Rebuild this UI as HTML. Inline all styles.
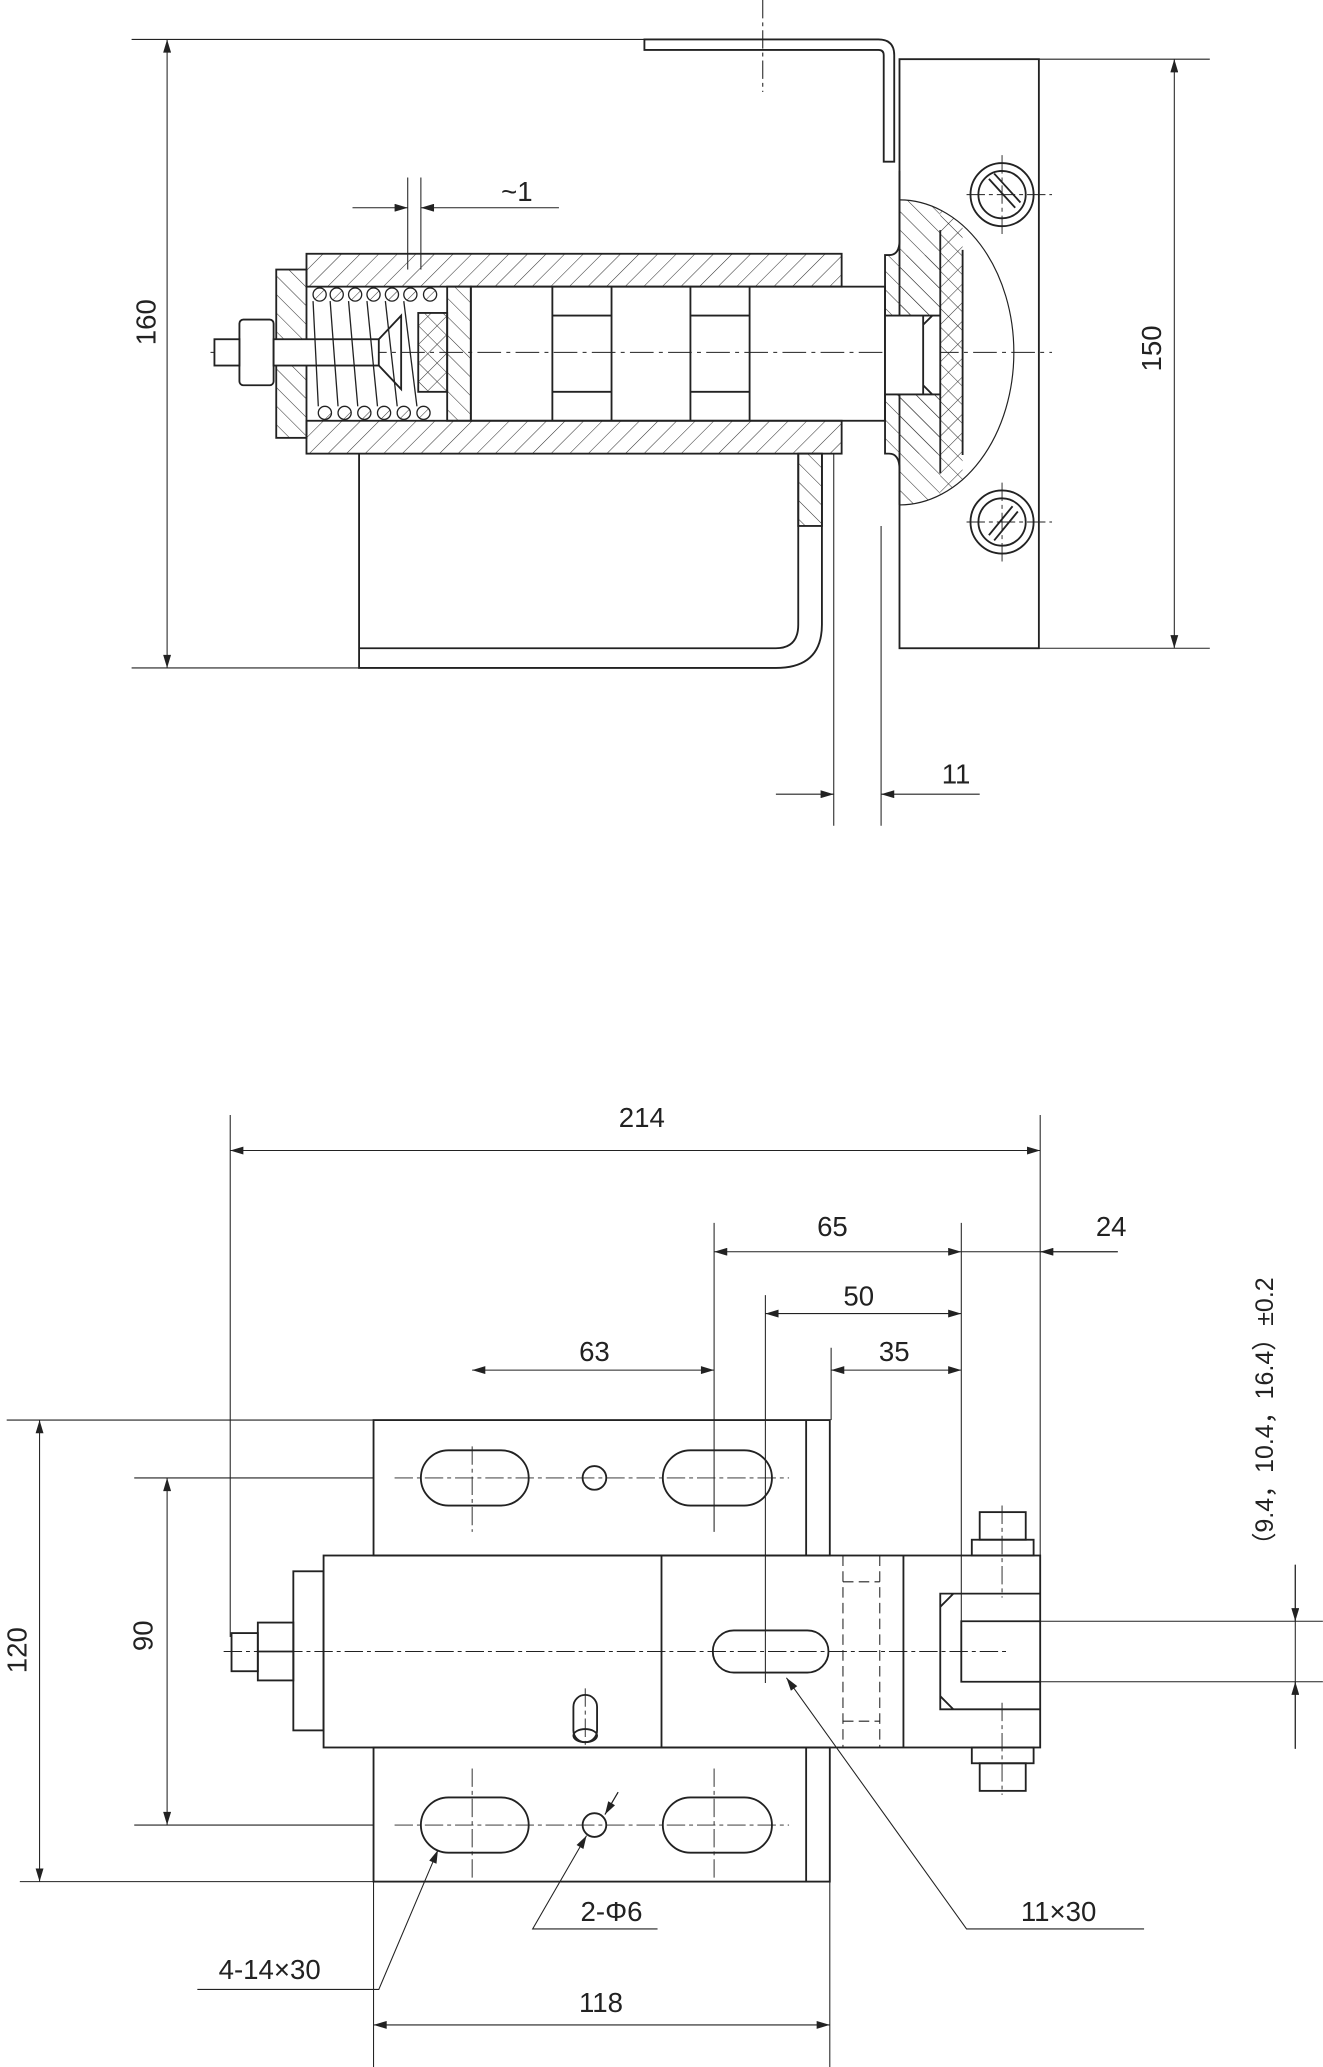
<!DOCTYPE html>
<html><head><meta charset="utf-8"><style>html,body{margin:0;padding:0;background:#fff}svg{display:block}</style></head>
<body>
<svg width="1323" height="2067" viewBox="0 0 1006 1572" xmlns="http://www.w3.org/2000/svg" font-family="Liberation Sans, sans-serif" font-size="21" fill="none" stroke="#222" stroke-width="1">
<defs>
<pattern id="h1" width="10" height="10" patternUnits="userSpaceOnUse" patternTransform="rotate(45)"><line x1="0" y1="0" x2="0" y2="10" stroke="#333" stroke-width="0.8"/></pattern>
<pattern id="h2" width="10" height="10" patternUnits="userSpaceOnUse" patternTransform="rotate(-45)"><line x1="0" y1="0" x2="0" y2="10" stroke="#333" stroke-width="0.8"/></pattern>
<pattern id="hx" width="10" height="10" patternUnits="userSpaceOnUse" patternTransform="rotate(45)"><line x1="0" y1="0" x2="0" y2="10" stroke="#333" stroke-width="0.8"/><line x1="0" y1="0" x2="10" y2="0" stroke="#333" stroke-width="0.8"/></pattern>
<clipPath id="dome"><ellipse cx="684" cy="268" rx="87" ry="116"/></clipPath>
<marker id="a" viewBox="0 0 10 6" refX="10" refY="3" markerWidth="14" markerHeight="6" markerUnits="userSpaceOnUse" orient="auto-start-reverse"><path d="M0,0L10,3L0,6z" fill="#222" stroke="none"/></marker>
</defs>
<g stroke-width="0.8">
<!-- TOP VIEW dims -->
<line x1="100" y1="30" x2="490" y2="30"/>
<line x1="127" y1="30" x2="127" y2="508" marker-start="url(#a)" marker-end="url(#a)"/>
<line x1="100" y1="508" x2="275" y2="508"/>
<line x1="580" y1="0" x2="580" y2="70" stroke-dasharray="14,3,3,3"/>
<line x1="684" y1="45" x2="920" y2="45"/>
<line x1="790" y1="493" x2="920" y2="493"/>
<line x1="893" y1="45" x2="893" y2="493" marker-start="url(#a)" marker-end="url(#a)"/>
<line x1="160" y1="268" x2="800" y2="268" stroke-dasharray="18,4,3,4"/>
<line x1="310" y1="135" x2="310" y2="205"/><line x1="320" y1="135" x2="320" y2="205"/>
<line x1="268" y1="158" x2="310" y2="158" marker-end="url(#a)"/>
<line x1="425" y1="158" x2="320" y2="158" marker-end="url(#a)"/>
<line x1="634" y1="345" x2="634" y2="628"/><line x1="670" y1="400" x2="670" y2="628"/>
<line x1="590" y1="604" x2="634" y2="604" marker-end="url(#a)"/>
<line x1="745" y1="604" x2="670" y2="604" marker-end="url(#a)"/>
</g>
<g stroke-width="1.4">
<path d="M490,30 L668,30 Q680,30 680,42 L680,123 L672,123 L672,42 Q672,38 668,38 L490,38 Z"/>
<rect x="684" y="45" width="106" height="448"/>
<!-- tube -->
<rect x="233" y="193" width="407" height="25" fill="url(#h1)"/>
<rect x="233" y="320" width="407" height="25" fill="url(#h1)"/>
<rect x="210" y="205" width="23" height="128" fill="url(#h2)"/>
<rect x="340" y="218" width="18" height="102" fill="url(#h2)"/>
<rect x="318" y="238" width="22" height="60" fill="url(#hx)"/>
<rect x="182" y="243" width="26" height="50" rx="3" fill="#fff"/>
<rect x="163" y="258" width="19" height="20" fill="#fff"/>
<rect x="208" y="258" width="80" height="20" fill="#fff"/>
<path d="M288,258 L305,240 L305,296 L288,278"/>
<rect x="358" y="218" width="315" height="102"/>
<line x1="420" y1="218" x2="420" y2="320"/><line x1="465" y1="218" x2="465" y2="320"/>
<line x1="525" y1="218" x2="525" y2="320"/><line x1="570" y1="218" x2="570" y2="320"/>
<line x1="420" y1="240" x2="465" y2="240"/><line x1="420" y1="298" x2="465" y2="298"/>
<line x1="525" y1="240" x2="570" y2="240"/><line x1="525" y1="298" x2="570" y2="298"/>
<g stroke-width="1">
<circle cx="243" cy="224" r="5" fill="url(#h1)"/><circle cx="256" cy="224" r="5" fill="url(#h1)"/><circle cx="270" cy="224" r="5" fill="url(#h1)"/><circle cx="284" cy="224" r="5" fill="url(#h1)"/><circle cx="298" cy="224" r="5" fill="url(#h1)"/><circle cx="312" cy="224" r="5" fill="url(#h1)"/><circle cx="327" cy="224" r="5" fill="url(#h1)"/>
<circle cx="247" cy="314" r="5" fill="url(#h1)"/><circle cx="262" cy="314" r="5" fill="url(#h1)"/><circle cx="277" cy="314" r="5" fill="url(#h1)"/><circle cx="292" cy="314" r="5" fill="url(#h1)"/><circle cx="307" cy="314" r="5" fill="url(#h1)"/><circle cx="322" cy="314" r="5" fill="url(#h1)"/>
<path d="M238,229L242,309M251,229L257,309M265,229L272,309M279,229L287,309M293,229L302,309M307,229L317,309"/>
</g>
<!-- flange -->
<g stroke="none">
<rect x="684" y="140" width="31" height="260" fill="url(#h2)" clip-path="url(#dome)"/>
<rect x="715" y="140" width="17" height="260" fill="url(#hx)" clip-path="url(#dome)"/>
<rect x="673" y="194" width="42" height="151" fill="url(#h2)"/>
<path d="M673,240 L702,240 L702,300 L673,300 Z M702,240 L715,240 L715,300 L702,300 Z" fill="#fff"/>
</g>
<path d="M684,152 A87,116 0 0 1 684,384" stroke-width="0.9"/>
<path d="M684,130 L684,183 Q684,194 676,194 L673,194 L673,345 L676,345 Q684,345 684,357 L684,384"/>
<path d="M673,240 L715,240 M673,300 L715,300 M702,240 L702,300 M702,247 L709,240 M702,293 L709,300"/>
<line x1="715" y1="175" x2="715" y2="360"/><line x1="732" y1="190" x2="732" y2="346"/>
<!-- screws -->
<circle cx="762" cy="148" r="24"/><circle cx="762" cy="148" r="18"/>
<path d="M752,136 L772,158 M756,132 L776,154"/>
<circle cx="762" cy="397" r="24"/><circle cx="762" cy="397" r="18"/>
<path d="M752,407 L770,385 M756,411 L774,389"/>
<!-- coil bracket -->
<path d="M273,345 L273,508 L590,508 Q625,508 625,475 L625,345"/>
<path d="M273,493 L590,493 Q607,493 607,475 L607,345"/>
<rect x="607" y="345" width="18" height="55" fill="url(#h2)"/>
</g>
<g stroke-width="0.7" stroke-dasharray="14,3,3,3">
<line x1="735" y1="148" x2="800" y2="148"/><line x1="762" y1="118" x2="762" y2="178"/>
<line x1="735" y1="397" x2="800" y2="397"/><line x1="762" y1="367" x2="762" y2="427"/>
</g>
<g fill="#222" stroke="none">
<text x="118" y="245" text-anchor="middle" transform="rotate(-90 118 245)">160</text>
<text x="883" y="265" text-anchor="middle" transform="rotate(-90 883 265)">150</text>
<text x="393" y="153" text-anchor="middle">~1</text>
<text x="727" y="596" text-anchor="middle">11</text>
</g>

<!-- BOTTOM VIEW -->
<g stroke-width="0.8">
<line x1="175" y1="848" x2="175" y2="1245"/><line x1="791" y1="848" x2="791" y2="1183"/>
<line x1="175" y1="875" x2="791" y2="875" marker-start="url(#a)" marker-end="url(#a)"/>
<line x1="543" y1="930" x2="543" y2="1165"/><line x1="731" y1="930" x2="731" y2="1233"/>
<line x1="543" y1="952" x2="731" y2="952" marker-start="url(#a)" marker-end="url(#a)"/>
<line x1="731" y1="952" x2="850" y2="952"/><line x1="850" y1="952" x2="791" y2="952" marker-end="url(#a)"/>
<line x1="582" y1="985" x2="582" y2="1280"/>
<line x1="582" y1="999" x2="731" y2="999" marker-start="url(#a)" marker-end="url(#a)"/>
<line x1="632" y1="1025" x2="632" y2="1080"/>
<line x1="632" y1="1042" x2="731" y2="1042" marker-start="url(#a)" marker-end="url(#a)"/>
<line x1="359" y1="1042" x2="543" y2="1042" marker-start="url(#a)" marker-end="url(#a)"/>
<line x1="5" y1="1080" x2="284" y2="1080"/><line x1="15" y1="1431" x2="284" y2="1431"/>
<line x1="30" y1="1080" x2="30" y2="1431" marker-start="url(#a)" marker-end="url(#a)"/>
<line x1="102" y1="1124" x2="284" y2="1124"/><line x1="102" y1="1388" x2="284" y2="1388"/>
<line x1="127" y1="1124" x2="127" y2="1388" marker-start="url(#a)" marker-end="url(#a)"/>
<line x1="284" y1="1431" x2="284" y2="1572"/><line x1="631" y1="1431" x2="631" y2="1572"/>
<line x1="284" y1="1540" x2="631" y2="1540" marker-start="url(#a)" marker-end="url(#a)"/>
<line x1="985" y1="1190" x2="985" y2="1330"/>
<line x1="731" y1="1233" x2="1006" y2="1233"/><line x1="731" y1="1279" x2="1006" y2="1279"/>
<line x1="985" y1="1190" x2="985" y2="1233" marker-end="url(#a)"/>
<line x1="985" y1="1330" x2="985" y2="1279" marker-end="url(#a)"/>
<path d="M150,1513 L288,1513 L333,1407" marker-end="url(#a)"/>
<path d="M500,1467 L405,1467 L446,1396" marker-end="url(#a)"/>
<line x1="460" y1="1380" x2="470" y2="1363"/>
<line x1="470" y1="1363" x2="460" y2="1380" marker-end="url(#a)"/>
<path d="M870,1467 L735,1467 L598,1276" marker-end="url(#a)"/>
</g>
<g stroke-width="1.4">
<rect x="284" y="1080" width="347" height="103"/><line x1="613" y1="1080" x2="613" y2="1183"/>
<rect x="284" y="1329" width="347" height="102"/><line x1="613" y1="1329" x2="613" y2="1431"/>
<rect x="320" y="1103" width="82" height="42" rx="21"/><rect x="504" y="1103" width="83" height="42" rx="21"/>
<rect x="320" y="1367" width="82" height="42" rx="21"/><rect x="504" y="1367" width="83" height="42" rx="21"/>
<circle cx="452" cy="1124" r="9"/><circle cx="452" cy="1388" r="9"/>
<rect x="246" y="1183" width="545" height="146"/>
<line x1="503" y1="1183" x2="503" y2="1329"/><line x1="687" y1="1183" x2="687" y2="1329"/>
<rect x="223" y="1195" width="23" height="121"/>
<rect x="196" y="1234" width="27" height="44"/><line x1="196" y1="1256" x2="223" y2="1256"/>
<rect x="176" y="1242" width="20" height="29"/>
<rect x="542" y="1240" width="88" height="32" rx="16"/>
<rect x="436" y="1289" width="18" height="36" rx="9"/>
<ellipse cx="445" cy="1320" rx="9" ry="5"/>
<path d="M791,1212 L715,1212 L715,1300 L791,1300"/>
<path d="M715,1222 L725,1212 M715,1290 L725,1300"/>
<path d="M791,1233 L731,1233 L731,1279 L791,1279"/>
<rect x="739" y="1171" width="47" height="12"/><rect x="745" y="1150" width="35" height="21"/>
<rect x="739" y="1329" width="47" height="12"/><rect x="745" y="1341" width="35" height="21"/>
</g>
<g stroke-width="0.8" stroke-dasharray="8,4">
<line x1="641" y1="1183" x2="641" y2="1329"/><line x1="669" y1="1183" x2="669" y2="1329"/>
<line x1="641" y1="1203" x2="669" y2="1203"/><line x1="641" y1="1309" x2="669" y2="1309"/>
</g>
<g stroke-width="0.7" stroke-dasharray="14,3,3,3">
<line x1="170" y1="1256" x2="765" y2="1256"/>
<line x1="300" y1="1124" x2="600" y2="1124"/><line x1="300" y1="1388" x2="600" y2="1388"/>
<line x1="359" y1="1100" x2="359" y2="1165"/><line x1="359" y1="1345" x2="359" y2="1431"/>
<line x1="543" y1="1345" x2="543" y2="1431"/>
<line x1="762" y1="1145" x2="762" y2="1215"/><line x1="762" y1="1295" x2="762" y2="1365"/>
<line x1="445" y1="1284" x2="445" y2="1330"/>
</g>
<g fill="#222" stroke="none">
<text x="488" y="857" text-anchor="middle">214</text>
<text x="633" y="940" text-anchor="middle">65</text>
<text x="845" y="940" text-anchor="middle">24</text>
<text x="653" y="993" text-anchor="middle">50</text>
<text x="680" y="1035" text-anchor="middle">35</text>
<text x="452" y="1035" text-anchor="middle">63</text>
<text x="20" y="1255" text-anchor="middle" transform="rotate(-90 20 1255)">120</text>
<text x="116" y="1244" text-anchor="middle" transform="rotate(-90 116 1244)">90</text>
<text x="457" y="1530" text-anchor="middle">118</text>
<text x="205" y="1505" text-anchor="middle">4-14×30</text>
<text x="465" y="1461" text-anchor="middle">2-Φ6</text>
<text x="805" y="1461" text-anchor="middle">11×30</text>
<text x="968" y="1078" text-anchor="middle" font-size="19" font-family="Liberation Sans, Noto Sans CJK SC, sans-serif" transform="rotate(-90 968 1078)">（9.4，10.4，16.4）±0.2</text>
</g>
</svg>
</body></html>
